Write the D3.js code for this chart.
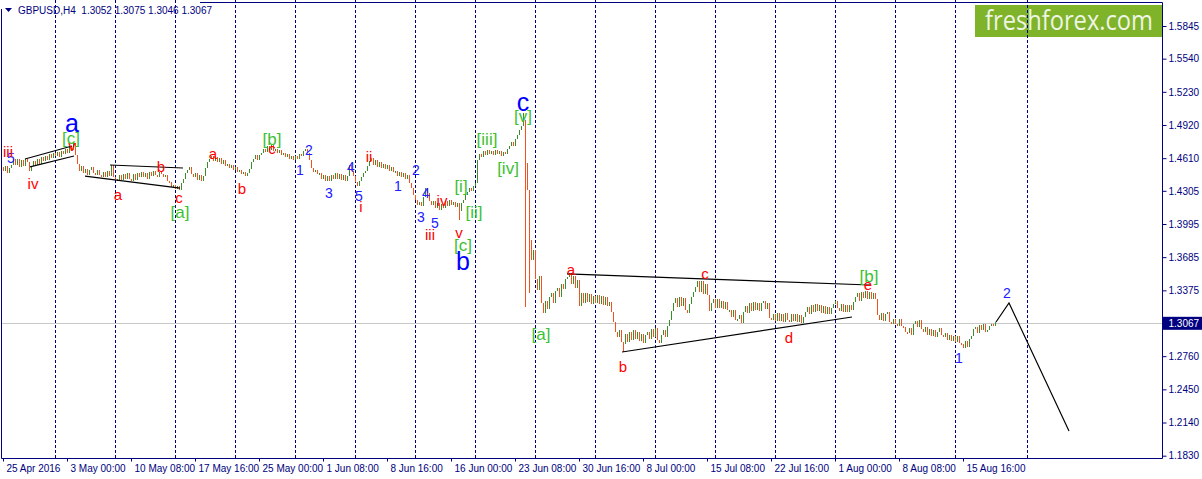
<!DOCTYPE html>
<html>
<head>
<meta charset="utf-8">
<title>GBPUSD,H4</title>
<script src="https://d3js.org/d3.v7.min.js"></script>
<style>
  html, body { margin: 0; padding: 0; background: #ffffff; overflow: hidden; }
  svg text { font-family: "Liberation Sans", Arial, sans-serif; }
</style>
</head>
<body>
<div id="container"></div>
<script>
/* GBPUSD H4 | wave count chart */

/* DATA | H4 closes, one array per trading week (30 bars from Mon 00:00) */
const wk0425 = [1.4530,1.4490,1.4540,1.4470,1.4520,1.4550,1.4600,1.4550,1.4600,1.4530,1.4590,1.4540,1.4600,1.4570,
  1.4490,1.4540,1.4580,1.4550,1.4600,1.4560,1.4620,1.4580,1.4630,1.4590,1.4650,1.4610,1.4660]; /* from 25 Apr 12:00 */
const wk0502 = [1.4630,1.4670,1.4620,1.4680,1.4650,1.4700,1.4660,1.4720,1.4690,1.4750,1.4640,1.4560,1.4490,1.4540,1.4470,
  1.4510,1.4450,1.4500,1.4530,1.4470,1.4450,1.4500,1.4450,1.4430,1.4480,1.4430,1.4490,1.4440,1.4550,1.4430];
const wk0509 = [1.4420,1.4400,1.4450,1.4410,1.4460,1.4420,1.4470,1.4420,1.4400,1.4460,1.4410,1.4470,1.4430,1.4480,1.4430,
  1.4470,1.4420,1.4480,1.4440,1.4490,1.4450,1.4430,1.4480,1.4460,1.4430,1.4450,1.4400,1.4390,1.4340,1.4360];
const wk0516 = [1.4320,1.4350,1.4310,1.4380,1.4420,1.4470,1.4500,1.4530,1.4460,1.4430,1.4470,1.4410,1.4450,1.4400,1.4440,
  1.4520,1.4570,1.4600,1.4630,1.4580,1.4620,1.4570,1.4610,1.4560,1.4590,1.4540,1.4560,1.4520,1.4550,1.4500];
const wk0523 = [1.4530,1.4480,1.4500,1.4460,1.4480,1.4440,1.4470,1.4510,1.4570,1.4600,1.4640,1.4590,1.4640,1.4660,1.4700,
  1.4670,1.4720,1.4690,1.4730,1.4680,1.4700,1.4660,1.4690,1.4640,1.4660,1.4620,1.4650,1.4600,1.4630,1.4590];
const wk0530 = [1.4630,1.4600,1.4650,1.4630,1.4680,1.4700,1.4660,1.4590,1.4520,1.4480,1.4500,1.4460,1.4470,1.4420,1.4450,
  1.4400,1.4440,1.4400,1.4450,1.4420,1.4470,1.4420,1.4460,1.4410,1.4450,1.4400,1.4440,1.4550,1.4490,1.4440];
const wk0606 = [1.4390,1.4350,1.4400,1.4430,1.4470,1.4490,1.4540,1.4580,1.4610,1.4550,1.4590,1.4530,1.4570,1.4520,1.4560,
  1.4510,1.4550,1.4490,1.4530,1.4480,1.4490,1.4440,1.4480,1.4430,1.4470,1.4420,1.4450,1.4380,1.4330,1.4270];
const wk0613 = [1.4220,1.4170,1.4200,1.4160,1.4250,1.4330,1.4280,1.4210,1.4170,1.4210,1.4140,1.4190,1.4130,1.4180,1.4140,
  1.4210,1.4160,1.4220,1.4170,1.4200,1.4150,1.4190,1.4120,1.4190,1.4220,1.4270,1.4290,1.4330,1.4300,1.4350];
const wk0620 = [1.4380,1.4590,1.4650,1.4620,1.4680,1.4640,1.4690,1.4650,1.4680,1.4640,1.4690,1.4650,1.4680,1.4630,1.4670,
  1.4650,1.4700,1.4720,1.4760,1.4720,1.4790,1.4830,1.4870,1.4910,1.4970,1.4359,1.4313,1.3845,1.3658,1.3752];
const wk0627 = [1.3480,1.3380,1.3510,1.3260,1.3160,1.3280,1.3200,1.3310,1.3350,1.3260,1.3370,1.3400,1.3310,1.3430,1.3390,
  1.3480,1.3500,1.3540,1.3430,1.3510,1.3400,1.3470,1.3230,1.3350,1.3260,1.3350,1.3270,1.3340,1.3250,1.3320];
const wk0704 = [1.3260,1.3330,1.3250,1.3320,1.3240,1.3310,1.3230,1.3270,1.3170,1.3080,1.2990,1.2940,1.3000,1.2890,1.2870,
  1.2970,1.2890,1.2990,1.2910,1.3000,1.2920,1.2990,1.2900,1.2970,1.2880,1.2960,1.2990,1.2920,1.3010,1.2940];
const wk0711 = [1.3020,1.2910,1.2880,1.2960,1.3000,1.2940,1.3040,1.3100,1.3180,1.3260,1.3300,1.3220,1.3310,1.3230,1.3300,
  1.3190,1.3160,1.3250,1.3310,1.3360,1.3410,1.3460,1.3360,1.3460,1.3340,1.3430,1.3330,1.3180,1.3260,1.3290];
const wk0718 = [1.3210,1.3290,1.3210,1.3280,1.3200,1.3270,1.3190,1.3190,1.3130,1.3190,1.3100,1.3110,1.3140,1.3070,1.3170,
  1.3230,1.3160,1.3260,1.3180,1.3270,1.3190,1.3260,1.3180,1.3260,1.3280,1.3200,1.3260,1.3120,1.3100,1.3150];
const wk0725 = [1.3090,1.3160,1.3090,1.3150,1.3080,1.3160,1.3100,1.3080,1.3150,1.3090,1.3150,1.3080,1.3140,1.3070,1.3130,
  1.3170,1.3220,1.3150,1.3240,1.3170,1.3250,1.3180,1.3240,1.3160,1.3230,1.3150,1.3220,1.3150,1.3210,1.3250];
const wk0801 = [1.3280,1.3210,1.3180,1.3250,1.3170,1.3240,1.3170,1.3240,1.3190,1.3270,1.3310,1.3350,1.3280,1.3360,1.3300,
  1.3370,1.3290,1.3360,1.3290,1.3350,1.3290,1.3140,1.3100,1.3160,1.3090,1.3150,1.3170,1.3080,1.3060,1.3110];
const wk0808 = [1.3060,1.3040,1.3110,1.3040,1.3030,1.2990,1.2980,1.3020,1.2960,1.3060,1.3090,1.3030,1.3100,1.3010,1.2990,
  1.3030,1.2960,1.3010,1.2950,1.3000,1.2940,1.2990,1.3020,1.2960,1.2940,1.2980,1.2910,1.2960,1.2900,1.2950];
const wk0815 = [1.2890,1.2950,1.2880,1.2870,1.2840,1.2900,1.2850,1.2920,1.2950,1.3010,1.3030,1.2980,1.3050,1.3000,1.3060,
  1.2990,1.3000,1.3040,1.3060,1.3052,1.3067];

const weeks = [wk0425, wk0502, wk0509, wk0516, wk0523, wk0530, wk0606, wk0613, wk0620,
  wk0627, wk0704, wk0711, wk0718, wk0725, wk0801, wk0808, wk0815];

/* wicks that reach beyond open/close: [bar index, price] */
const spikeHighs = [[36, 1.4761], [261, 1.5032], [263, 1.4565], [497, 1.3075]];
const spikeLows = [[229, 1.4032], [262, 1.3219], [264, 1.3350], [271, 1.3163], [311, 1.2799], [497, 1.3046]];

const lastQuote = { open: 1.3052, high: 1.3075, low: 1.3046, close: 1.3067 };

/* AXIS TICKS */
const priceTicks = [1.5845, 1.5540, 1.5230, 1.4920, 1.4610, 1.4305, 1.3995, 1.3685, 1.3375,
  1.2760, 1.2450, 1.2140, 1.1830];
const timeLabels = ["25 Apr 2016", "3 May 00:00", "10 May 08:00", "17 May 16:00", "25 May 00:00",
  "1 Jun 08:00", "8 Jun 16:00", "16 Jun 00:00", "23 Jun 08:00", "30 Jun 16:00", "8 Jul 00:00",
  "15 Jul 08:00", "22 Jul 16:00", "1 Aug 00:00", "8 Aug 08:00", "15 Aug 16:00"];
const labelStep = 32;            /* bars between time labels */
const futureWeekStart = 513;     /* separator drawn in the empty area */

/* WAVE LINES | [bar index, price] */
const waveLines = [
  [[12, 1.4602], [35.5, 1.4724]],
  [[14.5, 1.4528], [36.5, 1.4630]],
  [[54.5, 1.4546], [91, 1.4518]],
  [[42, 1.4443], [89.5, 1.4331]],
  [[283, 1.3528], [434.5, 1.3425]],
  [[310.5, 1.2799], [425.5, 1.3126]],
  [[497.5, 1.3079], [504, 1.3257], [534, 1.2061]]
];

/* WAVE LABELS | [text, bar index, price] */
const minorLabels = [["iii", 3.5, 1.4668], ["iv", 16, 1.4369], ["v", 35.5, 1.4733], ["a", 58.5, 1.4275],
  ["b", 80, 1.4528], ["c", 89, 1.4247], ["a", 106, 1.4658], ["b", 120.5, 1.4331], ["c", 135.5, 1.4705],
  ["i", 180, 1.4154], ["ii", 184, 1.4621], ["iii", 214.5, 1.3901], ["iv", 220.5, 1.4219], ["v", 229, 1.3911],
  ["a", 285, 1.3574], ["b", 311, 1.2668], ["c", 352, 1.3528], ["d", 394, 1.2930], ["e", 433.5, 1.3434]];
const minuteLabels = [["5", 5, 1.4612], ["1", 149.5, 1.4500], ["2", 154, 1.4686], ["3", 164, 1.4285],
  ["4", 175, 1.4528], ["5", 179, 1.4257], ["1", 198.5, 1.4350], ["2", 207.5, 1.4500], ["3", 210, 1.4060],
  ["4", 212.5, 1.4285], ["5", 217, 1.4004], ["1", 479, 1.2743], ["2", 503, 1.3350]];
const majorLabels = [["a", 35.5, 1.4939], ["b", 231, 1.3649], ["c", 261, 1.5135]];
const bracketLabels = [["[c]", 35, 1.4798], ["[a]", 89.5, 1.4107], ["[b]", 135.5, 1.4789], ["[i]", 230, 1.4341],
  ["[ii]", 236.5, 1.4107], ["[c]", 231, 1.3798], ["[iii]", 243, 1.4789], ["[iv]", 253.5, 1.4509],
  ["[v]", 261, 1.4995], ["[a]", 270, 1.2967], ["[b]", 434, 1.3500]];

/* CONSTANTS */
const width = 1202, height = 479;
const plot = { left: 1.5, right: 1162.5, top: 2.5, bottom: 458.5 };
const navy = "#000080";

/* BUILD BARS from the weekly closes */
const closes = weeks.flat();
const bars = closes.map((c, i) => {
  const o = i === 0 ? c : closes[i - 1];
  const h = spikeHighs.find(s => s[0] === i);
  const l = spikeLows.find(s => s[0] === i);
  return {
    i: i, open: o, close: c,
    high: Math.max(o, c, h ? h[1] : c),
    low: Math.min(o, c, l ? l[1] : c)
  };
});

/* week separators: start of each full week */
const separators = [];
let run = 0;
weeks.forEach((w, k) => { run += w.length; if (k < weeks.length - 1) separators.push(run); });
separators.push(futureWeekStart);

/* SCALES */
const xScale = d3.scaleLinear().domain([0, 580]).range([1, 1161]);   /* 2px per bar */
const yScale = d3.scaleLinear().domain([1.1830, 1.5845]).range([455.7, 26]);

/* SVG */
const svg = d3.select("#container")
  .append("svg")
  .attr("width", width)
  .attr("height", height)
  .style("display", "block");

svg.append("rect").attr("width", width).attr("height", height).attr("fill", "#ffffff");

/* header */
svg.append("path")
  .attr("d", "M5,8 L12,8 L8.5,12 Z")
  .attr("fill", navy);
svg.append("text")
  .attr("x", 18).attr("y", 14)
  .attr("fill", navy)
  .style("font-size", "10px")
  .attr("xml:space", "preserve")
  .text(`GBPUSD,H4  ${lastQuote.open.toFixed(4)} ${lastQuote.high.toFixed(4)} ${lastQuote.low.toFixed(4)} ${lastQuote.close.toFixed(4)}`);

/* logo */
svg.append("rect")
  .attr("x", 975).attr("y", 5).attr("width", 187).attr("height", 32)
  .attr("fill", "#7fb32a");
svg.append("text")
  .attr("x", 985).attr("y", 30)
  .attr("fill", "#eef5e4")
  .attr("textLength", 168)
  .attr("lengthAdjust", "spacingAndGlyphs")
  .style("font-family", "'Open Sans', 'Noto Sans', sans-serif")
  .style("font-size", "27px")
  .text("freshforex.com");

/* period separators */
svg.append("g")
  .selectAll("line")
  .data(separators)
  .join("line")
  .attr("x1", d => Math.round(xScale(d)) + 0.5)
  .attr("x2", d => Math.round(xScale(d)) + 0.5)
  .attr("y1", 0)
  .attr("y2", plot.bottom)
  .attr("stroke", navy)
  .attr("stroke-dasharray", "3,2");

/* current price line */
svg.append("line")
  .attr("x1", plot.left).attr("x2", plot.right)
  .attr("y1", Math.round(yScale(lastQuote.close)) + 0.5)
  .attr("y2", Math.round(yScale(lastQuote.close)) + 0.5)
  .attr("stroke", "#c8c8c8");

/* BARS */
svg.append("g")
  .selectAll("line")
  .data(bars)
  .join("line")
  .attr("x1", d => Math.round(xScale(d.i)) + 0.5)
  .attr("x2", d => Math.round(xScale(d.i)) + 0.5)
  .attr("y1", d => Math.round(yScale(d.high)))
  .attr("y2", d => Math.max(Math.round(yScale(d.low)), Math.round(yScale(d.high)) + 2))
  .attr("stroke", d => d.close >= d.open ? "#3a8e2c" : "#f4511e")
  .attr("stroke-width", 1);

/* WAVE LINES */
const lineGen = d3.line()
  .x(d => xScale(d[0]))
  .y(d => yScale(d[1]));

svg.append("g")
  .selectAll("path")
  .data(waveLines)
  .join("path")
  .attr("d", lineGen)
  .attr("fill", "none")
  .attr("stroke", "#000000")
  .attr("stroke-width", 1.2);

/* WAVE LABELS */
function drawLabels(list, color, size) {
  svg.append("g")
    .selectAll("text")
    .data(list)
    .join("text")
    .attr("x", d => xScale(d[1]))
    .attr("y", d => yScale(d[2]))
    .attr("text-anchor", "middle")
    .attr("dominant-baseline", "central")
    .attr("fill", color)
    .style("font-size", size + "px")
    .text(d => d[0]);
}
drawLabels(minuteLabels, "#2020ff", 14);
drawLabels(minorLabels, "#ff0000", 15);
drawLabels(bracketLabels, "#3cbf32", 17);
drawLabels(majorLabels, "#0000ff", 25);

/* FRAME */
svg.append("path")
  .attr("d", `M${plot.left},9 V${plot.bottom} H${plot.right} V${plot.top} H200`)
  .attr("fill", "none")
  .attr("stroke", navy);

/* AXES */
const yAxis = d3.axisRight(yScale)
  .tickValues(priceTicks)
  .tickFormat(d3.format(".4f"))
  .tickSize(4)
  .tickPadding(2);

const yAxisGroup = svg.append("g")
  .attr("transform", `translate(${plot.right}, 0)`)
  .call(yAxis);
yAxisGroup.select(".domain").remove();
yAxisGroup.selectAll("line").attr("stroke", navy);
yAxisGroup.selectAll("text")
  .attr("fill", navy)
  .style("font-size", "10px")
  .style("font-family", "'Liberation Sans', Arial, sans-serif");

/* current price tag */
svg.append("rect")
  .attr("x", plot.right + 0.5).attr("y", yScale(lastQuote.close) - 6.5)
  .attr("width", 40).attr("height", 13)
  .attr("fill", navy);
svg.append("text")
  .attr("x", plot.right + 6).attr("y", yScale(lastQuote.close))
  .attr("dominant-baseline", "central")
  .attr("fill", "#ffffff")
  .style("font-size", "10px")
  .text(lastQuote.close.toFixed(4));

const labelBars = timeLabels.map((t, k) => 1 + labelStep * k);
const xAxis = d3.axisBottom(xScale)
  .tickValues(labelBars)
  .tickFormat((d, k) => timeLabels[k])
  .tickSize(3)
  .tickPadding(3);

const xAxisGroup = svg.append("g")
  .attr("transform", `translate(0, ${plot.bottom})`)
  .call(xAxis);
xAxisGroup.select(".domain").remove();
xAxisGroup.selectAll("line").attr("stroke", navy);
xAxisGroup.selectAll("text")
  .attr("text-anchor", "start")
  .attr("dx", 3)
  .attr("fill", navy)
  .style("font-size", "10px")
  .style("font-family", "'Liberation Sans', Arial, sans-serif");
</script>
</body>
</html>
